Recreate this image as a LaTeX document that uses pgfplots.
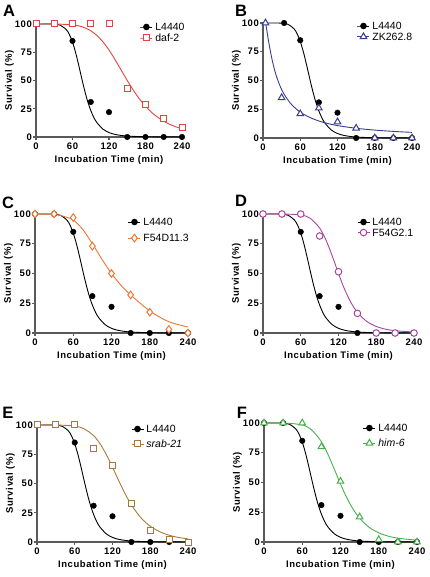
\documentclass[border=0pt]{standalone}
\usepackage{pgfplots}
\pgfplotsset{compat=1.18}
\usepackage{pgfplotstable}
\usepackage{fontspec}
\setmainfont{Liberation Sans}
\newfontfamily\labfont[LetterSpace=6]{Liberation Sans}

\definecolor{cA}{HTML}{E2453C}
\definecolor{cB}{HTML}{393C8E}
\definecolor{cC}{HTML}{EC7636}
\definecolor{cD}{HTML}{A5479E}
\definecolor{cE}{HTML}{A67B38}
\definecolor{cF}{HTML}{47B04B}
\definecolor{axisgray}{HTML}{5A5A5A}

\newcommand{\tickfont}{\labfont\bfseries\fontsize{9.5}{11}\selectfont}
\newcommand{\axlabfont}{\labfont\bfseries\fontsize{9.5}{11}\selectfont}
\newcommand{\legfont}{\fontsize{10.5}{12}\selectfont}
\newcommand{\letfont}{\bfseries\fontsize{16.5}{17}\selectfont}

% L4440 control (shared)
\pgfplotstableread{
x y
0 100
30 100
60 85
90 31
120 22
150 0
180 0
210 0
240 0
}\Lpts
\pgfplotstableread{
x y
34 100
60 85
90 31
120 22
150 0
180 0
210 0
240 0
}\LptsB
\pgfplotstableread{
x y
0 100
10 100
20 99.99
30 99.85
40 98.9
50 94.9
55 90.6
60 84.0
65 74.9
70 64.0
75 52.3
80 41.1
85 31.3
90 23.5
95 17.3
100 12.8
110 7.0
120 3.9
130 2.28
140 1.37
150 0.85
165 0.44
180 0.24
210 0.08
240 0.03
}\Lcurve
% A daf-2
\pgfplotstableread{
x y
0 100
30 100
60 100
90 100
120 100
150 43
180 29
210 16.5
240 8.5
}\Apts
\pgfplotstableread{
x y
0 100
30 100
60 99.3
70 98.4
80 96.7
90 94.0
100 89.9
110 84.2
120 77.0
130 68.4
140 59.2
150 50.0
160 41.4
170 33.7
180 27.2
190 21.8
200 17.5
210 14.0
220 11.2
230 9.0
240 7.3
}\Acurve
% B ZK262.8
\pgfplotstableread{
x y
4 100
30 35
60 21
90 26
120 14
150 8.5
180 0
210 0
240 0
}\Bpts
\pgfplotstableread{
x y
0 100
4 100
6 94.1
9 84.0
14 69.7
19 58.5
24 50.0
29 43.3
34 38.1
44 30.3
54 25.0
64 21.1
79 17.0
94 14.1
109 12.0
124 10.4
154 8.2
184 6.7
214 5.6
240 4.9
}\Bcurve
% C F54D11.3
\pgfplotstableread{
x y
0 100
30 100
60 97
90 73
120 50
150 32
180 17.5
210 3
240 0
}\Cpts
\pgfplotstableread{
x y
0 100
30 99.6
45 98
60 95
75 87
90 75
105 62
120 50
135 40
150 32
165 25
180 18.5
195 13.5
210 9.5
225 7
240 5
}\Ccurve
% D F54G2.1
\pgfplotstableread{
x y
0 100
30 100
60 100
90 81.5
120 51.5
150 16.5
180 0
210 0
240 0
}\Dpts
\pgfplotstableread{
x y
0 100
30 100
60 99.2
75 96.4
90 88.2
100 78.2
110 64.8
120 50.0
130 36.3
140 25.4
150 17.3
165 9.7
180 5.5
195 3.2
210 1.9
240 0.8
}\Dcurve
% E srab-21
\pgfplotstableread{
x y
0 100
30 100
60 100
90 80
120 65
150 33
180 9.5
210 2.5
240 0
}\Epts
\pgfplotstableread{
x y
0 100
30 100
60 99.1
75 96.7
90 90.9
100 84.1
110 74.9
120 63.9
130 52.3
140 41.3
150 31.7
165 20.8
180 13.5
195 8.8
210 5.8
225 3.9
240 2.7
}\Ecurve
% F him-6
\pgfplotstableread{
x y
0 100
30 100
60 100
90 80
120 51
150 21
180 2
210 0
240 0
}\Fpts
\pgfplotstableread{
x y
0 100
30 100
60 98.4
75 94.1
90 84.3
100 74.0
110 61.6
120 48.8
130 37.0
140 27.4
150 20.0
165 12.3
180 7.7
195 4.9
210 3.2
240 1.5
}\Fcurve

\pgfplotsset{
  panel/.style={
    scale only axis, clip=false,
    anchor=south west,
    xmin=0, xmax=240, ymin=0, ymax=100,
    axis x line*=bottom, axis y line*=left,
    axis line style={line width=1.1pt, draw=axisgray, -},
    xtick={0,60,120,180,240}, ytick={0,25,50,75,100},
    tick align=outside, major tick length=3pt,
    every tick/.style={line width=1.1pt, draw=axisgray},
    /pgf/number format/assume math mode=true,
    tick label style={font=\tickfont},
    xticklabel style={inner sep=1pt, yshift=-1.5pt},
    yticklabel style={inner sep=1pt},
    xlabel={Incubation Time (min)}, ylabel={Survival (\%)},
    label style={font=\axlabfont},
    xlabel style={at={([yshift=-23.5pt]axis description cs:0.5,0)}, anchor=center},
    ylabel style={at={([xshift=-26.5pt]axis description cs:0,0.5)}, anchor=center},
    legend image code/.code={\draw[mark repeat=2,mark phase=2,#1] plot coordinates {(0pt,0pt)(6pt,0pt)(12pt,0pt)};},
    legend style={draw=none, fill=none, font=\legfont, anchor=north west,
      inner sep=0pt, outer sep=0pt, column sep=2.5pt,
      nodes={inner sep=0pt, text height=7.5pt, text depth=0pt}},
    legend cell align=left,
  },
  fitc/.style={line width=0.9pt, smooth, no marks, forget plot},
  lmk/.style={only marks, mark=*, mark size=2.8pt, black, forget plot},
  omk/.style={only marks, mark options={fill=white, line width=1pt}, forget plot},
  lleg/.style={black, line width=0.9pt, mark=*, mark size=2.8pt},
}

\begin{document}
\begin{tikzpicture}[x=1pt,y=1pt]
\useasboundingbox (0,0) rectangle (430,577);

% ---------- A ----------
\begin{axis}[panel, at={(36pt,440pt)}, width=146pt, height=113pt,
  legend style={at={(0.712,1.0066)}, row sep=3.5pt}]
\addlegendimage{lleg}\addlegendentry{L4440}
\addlegendimage{cA, line width=0.9pt, mark=square*, mark size=3pt, mark options={fill=white, line width=1pt}}\addlegendentry{daf-2}
\addplot[fitc, black] table {\Lcurve};
\addplot[lmk] table {\Lpts};
\addplot[fitc, cA] table {\Acurve};
\addplot[omk, cA, mark=square*, mark size=3pt] table {\Apts};
\end{axis}

% ---------- B ----------
\begin{axis}[panel, at={(263pt,439pt)}, width=149pt, height=115pt,
  legend style={at={(0.631,1.0065)}, row sep=3.2pt}]
\addlegendimage{lleg}\addlegendentry{L4440}
\addlegendimage{cB, line width=0.9pt, mark=triangle*, mark size=3.8pt, mark options={fill=white, line width=1pt}}\addlegendentry{ZK262.8}
\addplot[fitc, black] table {\Lcurve};
\addplot[lmk] table {\LptsB};
\addplot[fitc, cB] table {\Bcurve};
\addplot[omk, cB, mark=triangle*, mark size=3.8pt] table {\Bpts};
\end{axis}

% ---------- C ----------
\begin{axis}[panel, at={(35pt,244pt)}, width=153pt, height=119pt,
  legend style={at={(0.608,0.964)}, row sep=8.5pt}]
\addlegendimage{lleg}\addlegendentry{L4440}
\addlegendimage{cC, line width=0.9pt, mark=diamond*, mark size=3.8pt, mark options={fill=white, line width=1pt}}\addlegendentry{F54D11.3}
\addplot[fitc, black] table {\Lcurve};
\addplot[lmk] table {\Lpts};
\addplot[fitc, cC] table {\Ccurve};
\addplot[omk, cC, mark=diamond*, mark size=3.8pt] table {\Cpts};
\end{axis}

% ---------- D ----------
\begin{axis}[panel, at={(263pt,244pt)}, width=151pt, height=119pt,
  legend style={at={(0.623,0.964)}, row sep=3pt}]
\addlegendimage{lleg}\addlegendentry{L4440}
\addlegendimage{cD, line width=0.9pt, mark=*, mark size=3.3pt, mark options={fill=white, line width=1pt}}\addlegendentry{F54G2.1}
\addplot[fitc, black] table {\Lcurve};
\addplot[lmk] table {\Lpts};
\addplot[fitc, cD] table {\Dcurve};
\addplot[omk, cD, mark=*, mark size=3.3pt] table {\Dpts};
\end{axis}

% ---------- E ----------
\begin{axis}[panel, at={(37pt,35pt)}, width=151pt, height=117pt,
  legend style={at={(0.623,0.998)}, row sep=7.5pt}]
\addlegendimage{lleg}\addlegendentry{L4440}
\addlegendimage{cE, line width=0.9pt, mark=square*, mark size=3pt, mark options={fill=white, line width=1pt}}\addlegendentry{\itshape srab-21}
\addplot[fitc, black] table {\Lcurve};
\addplot[lmk] table {\Lpts};
\addplot[fitc, cE] table {\Ecurve};
\addplot[omk, cE, mark=square*, mark size=3pt] table {\Epts};
\end{axis}

% ---------- F ----------
\begin{axis}[panel, at={(264pt,35pt)}, width=153pt, height=119pt,
  legend style={at={(0.647,0.989)}, row sep=7.5pt}]
\addlegendimage{lleg}\addlegendentry{L4440}
\addlegendimage{cF, line width=0.9pt, mark=triangle*, mark size=3.8pt, mark options={fill=white, line width=1pt}}\addlegendentry{\itshape him-6}
\addplot[fitc, black] table {\Lcurve};
\addplot[lmk] table {\Lpts};
\addplot[fitc, cF] table {\Fcurve};
\addplot[omk, cF, mark=triangle*, mark size=3.8pt] table {\Fpts};
\end{axis}

% panel letters
\node[font=\letfont] at (9pt,566pt) {A};
\node[font=\letfont] at (241pt,566pt) {B};
\node[font=\letfont] at (8pt,374.5pt) {C};
\node[font=\letfont] at (241pt,376pt) {D};
\node[font=\letfont] at (8pt,164.5pt) {E};
\node[font=\letfont] at (242pt,164.5pt) {F};
\end{tikzpicture}
\end{document}
